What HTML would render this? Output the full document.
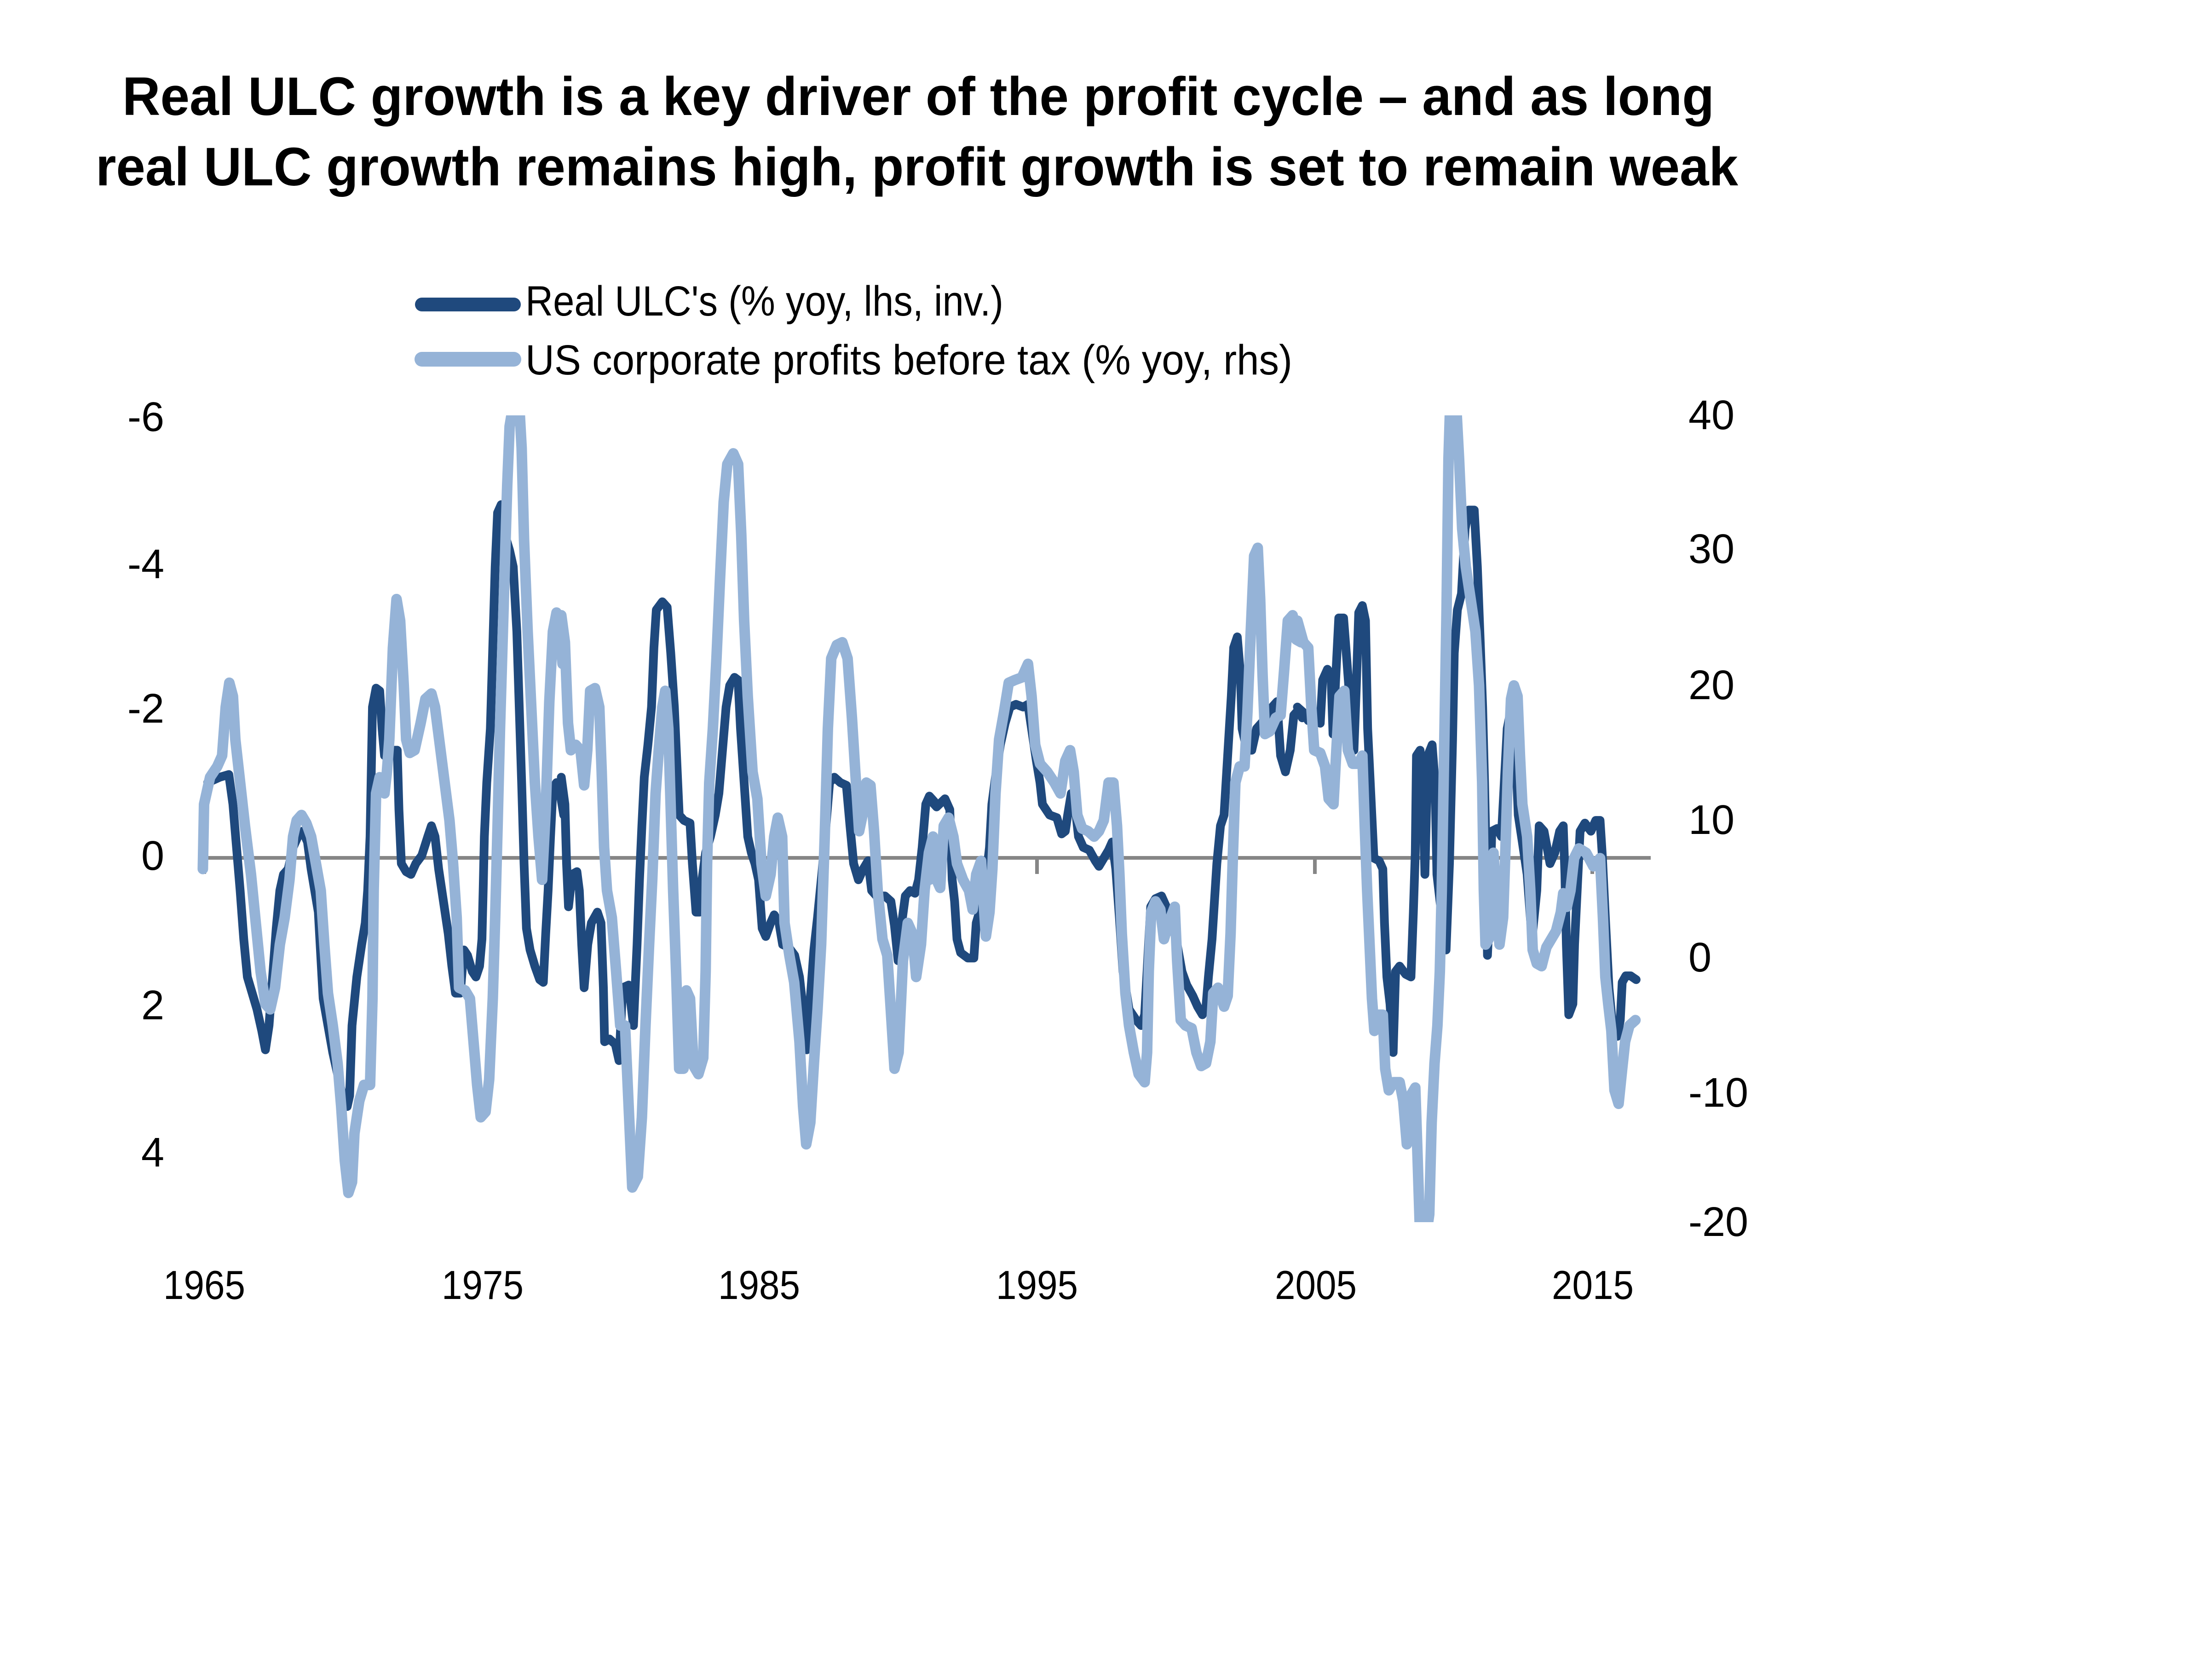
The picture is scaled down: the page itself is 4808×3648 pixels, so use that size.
<!DOCTYPE html>
<html>
<head>
<meta charset="utf-8">
<style>
  html, body { margin: 0; padding: 0; background: #ffffff; }
  svg { display: block; }
</style>
</head>
<body>
<svg width="4808" height="3648" viewBox="0 0 4808 3648" xmlns="http://www.w3.org/2000/svg">
  <rect x="0" y="0" width="4808" height="3648" fill="#ffffff"/>

  <!-- Title -->
  <g font-family="'Liberation Sans', Arial, sans-serif" font-weight="bold" font-size="118" fill="#000000">
    <text x="266" y="250" textLength="3460" lengthAdjust="spacingAndGlyphs">Real ULC growth is a key driver of the profit cycle – and as long</text>
    <text x="208" y="403" textLength="3570" lengthAdjust="spacingAndGlyphs">real ULC growth remains high, profit growth is set to remain weak</text>
  </g>

  <!-- Legend -->
  <line x1="917" y1="662" x2="1117" y2="662" stroke="#1F497D" stroke-width="30" stroke-linecap="round"/>
  <line x1="917" y1="781" x2="1117" y2="781" stroke="#95B3D7" stroke-width="32" stroke-linecap="round"/>
  <g font-family="'Liberation Sans', Arial, sans-serif" font-size="92" fill="#000000">
    <text x="1142" y="686" textLength="1039" lengthAdjust="spacingAndGlyphs">Real ULC's (% yoy, lhs, inv.)</text>
    <text x="1142" y="814" textLength="1667" lengthAdjust="spacingAndGlyphs">US corporate profits before tax (% yoy, rhs)</text>
  </g>

  <!-- Left axis labels -->
  <g font-family="'Liberation Sans', Arial, sans-serif" font-size="90" fill="#000000" text-anchor="end">
    <text x="357" y="937">-6</text>
    <text x="357" y="1257">-4</text>
    <text x="357" y="1571">-2</text>
    <text x="357" y="1891">0</text>
    <text x="357" y="2216">2</text>
    <text x="357" y="2536">4</text>
  </g>

  <!-- Right axis labels -->
  <g font-family="'Liberation Sans', Arial, sans-serif" font-size="90" fill="#000000">
    <text x="3670" y="933">40</text>
    <text x="3670" y="1224">30</text>
    <text x="3670" y="1520">20</text>
    <text x="3670" y="1813">10</text>
    <text x="3670" y="2112">0</text>
    <text x="3670" y="2406">-10</text>
    <text x="3670" y="2687">-20</text>
  </g>

  <!-- Bottom axis labels -->
  <g font-family="'Liberation Sans', Arial, sans-serif" font-size="88" fill="#000000" text-anchor="middle">
    <text x="444" y="2824" textLength="178" lengthAdjust="spacingAndGlyphs">1965</text>
    <text x="1049" y="2824" textLength="178" lengthAdjust="spacingAndGlyphs">1975</text>
    <text x="1650" y="2824" textLength="178" lengthAdjust="spacingAndGlyphs">1985</text>
    <text x="2254" y="2824" textLength="178" lengthAdjust="spacingAndGlyphs">1995</text>
    <text x="2860" y="2824" textLength="178" lengthAdjust="spacingAndGlyphs">2005</text>
    <text x="3462" y="2824" textLength="178" lengthAdjust="spacingAndGlyphs">2015</text>
  </g>

  <!-- Horizontal axis line and ticks -->
  <g stroke="#868686" stroke-width="8" fill="none">
    <line x1="440" y1="1865" x2="3588" y2="1865"/>
    <line x1="444" y1="1865" x2="444" y2="1900"/>
    <line x1="1048" y1="1865" x2="1048" y2="1900"/>
    <line x1="1651" y1="1865" x2="1651" y2="1900"/>
    <line x1="2254" y1="1865" x2="2254" y2="1900"/>
    <line x1="2858" y1="1865" x2="2858" y2="1900"/>
    <line x1="3461" y1="1865" x2="3461" y2="1900"/>
  </g>

  <defs>
    <clipPath id="pa">
      <rect x="0" y="903" width="4808" height="1754"/>
    </clipPath>
  </defs>

  <g clip-path="url(#pa)">
    <!-- Dark series: Real ULC's -->
    <g fill="none" stroke="#1F497D" stroke-width="19" stroke-linejoin="round" stroke-linecap="round">
      <g transform="translate(420 880) scale(0.52296 1.17347)">
        <polyline vector-effect="non-scaling-stroke" points="60,700 110,690 148,685 165,740 180,820 195,900 210,990 225,1060 245,1090 265,1120 285,1160 300,1195 315,1150 330,1060 345,970 360,900 375,870 395,860 415,820 435,800 455,790 475,810 490,860 505,900 520,940 540,1100 560,1150 580,1200 600,1240 620,1280 640,1300 650,1280 660,1150 680,1060 700,1000 715,960 725,900 735,800 740,680 745,560 760,525 775,530 785,600 795,650 805,650 830,640 848,640 855,750 865,850 885,865 905,870 925,850 950,835 975,800 990,780 1005,800 1020,860 1040,920 1060,980 1075,1040 1090,1090 1110,1090 1125,1010 1140,1020 1160,1050 1175,1060 1190,1040 1200,990 1205,900 1210,800 1220,700 1235,600 1245,450 1255,300 1265,200 1280,185 1295,240 1315,270 1330,300 1345,420 1355,560 1365,700 1375,850 1385,970 1400,1010 1420,1040 1440,1065 1455,1070 1465,980 1475,900 1485,800 1495,710 1510,700 1525,720 1540,760"/>
      </g>
      <g transform="translate(1220 880) scale(0.52296 1.17347)">
        <polyline vector-effect="non-scaling-stroke" points="0,690 15,740 22,850 30,930 45,870 65,865 75,900 85,1000 95,1080 110,1000 125,960 150,940 165,960 175,1080 180,1180 200,1175 225,1185 240,1215 255,1080 280,1075 300,1150 315,1000 325,880 335,780 345,690 360,630 375,560 385,450 395,380 420,365 440,375 455,460 470,560 480,660 490,760 510,770 535,775 545,850 560,940 575,940 585,880 600,830 620,800 640,760 655,720 670,640 685,560 700,520 720,505 735,510 745,600 760,700 775,800 790,830 805,850 820,880 835,970 850,985 870,960 885,945 905,960 920,1000 945,1005 970,1020 990,1060 1005,1120 1020,1195 1035,1100 1050,1010 1065,950 1085,860 1100,780 1115,700 1135,690 1160,700 1185,705 1200,780 1215,850 1235,880 1255,860 1275,845 1290,900 1310,910 1345,910 1370,920 1385,965 1400,1030 1415,960 1430,910 1450,900 1470,905 1485,880 1500,820 1515,740 1530,725 1550,735"/>
      </g>
      <g transform="translate(2020 880) scale(0.52296 1.17347)">
        <polyline vector-effect="non-scaling-stroke" points="0,730 30,745 65,730 85,750 95,880 105,920 115,990 130,1015 160,1025 185,1025 195,960 215,930 235,880 250,820 260,740 275,690 295,630 315,590 335,560 360,555 390,560 410,555 425,600 445,660 460,700 470,740 500,760 530,765 550,795 565,790 575,760 590,720 605,740 620,800 640,820 665,825 690,845 705,855 725,840 745,825 760,810 775,860 790,950 805,1050 830,1120 860,1140 880,1150 895,1130 905,1050 920,930 940,915 965,910 985,930 1010,960 1030,1000 1050,1050 1070,1075 1095,1095 1115,1115 1135,1130 1150,1115 1160,1060 1175,990 1185,920 1195,850 1210,780 1225,760 1240,650 1255,540 1265,450 1280,430 1293,500 1300,600 1320,640 1340,640 1360,600 1380,590 1400,580 1425,560 1445,550 1460,650 1480,680 1500,640 1515,575 1535,565 1550,580"/>
      </g>
      <g transform="translate(2820 880) scale(0.52296 1.17347)">
        <polyline vector-effect="non-scaling-stroke" points="0,560 25,570 45,585 75,585 95,590 105,510 125,490 140,500 148,610 160,500 172,395 192,395 205,470 220,560 235,640 245,520 255,385 270,372 283,400 292,600 305,720 318,840 340,845 355,860 362,960 372,1060 385,1110 398,1200 408,1050 425,1040 450,1055 472,1060 482,940 490,830 495,650 510,640 522,720 530,870 542,650 560,630 572,700 580,870 598,940 618,1010 632,850 645,620 652,460 665,380 682,350 697,230 712,195 735,195 748,300 760,440 770,560 778,700 785,850 790,1020 800,920 808,790 830,785 848,800 860,700 872,600 890,560 905,620 918,760 935,810 955,870 975,990 995,900 1005,780 1025,790 1050,850 1070,830 1090,790 1105,780 1112,870 1118,1000 1128,1130 1145,1110 1152,1000 1165,880 1175,790 1195,775 1220,790 1240,770 1258,770 1268,840 1280,950 1295,1080 1312,1160 1330,1170 1342,1140 1350,1070 1365,1058 1385,1058 1408,1065"/>
      </g>
    </g>

    <!-- Light series: US corporate profits -->
    <g fill="none" stroke="#95B3D7" stroke-width="23" stroke-linejoin="round" stroke-linecap="round">
      <g transform="translate(420 880) scale(0.52296 1.17347)">
        <polyline vector-effect="non-scaling-stroke" points="40,860 45,740 70,690 100,670 120,650 135,560 150,515 165,540 175,620 195,700 215,780 240,870 260,960 280,1050 300,1110 320,1120 340,1080 360,1000 380,950 400,880 415,800 430,770 450,760 470,775 490,800 510,850 530,900 545,1000 560,1090 580,1150 600,1220 615,1300 630,1400 645,1460 660,1440 670,1350 690,1290 710,1260 735,1260 745,1100 750,900 760,720 775,690 795,720 805,680 815,620 830,450 845,360 860,400 875,520 885,620 900,645 920,640 945,590 965,545 990,535 1005,560 1025,630 1045,700 1065,770 1080,850 1095,950 1105,1080 1130,1085 1150,1100 1165,1180 1180,1260 1195,1320 1215,1310 1230,1250 1245,1100 1255,950 1265,780 1275,600 1285,450 1295,300 1305,150 1315,40 1330,0 1355,0 1365,80 1375,250 1390,420 1405,560 1420,700 1435,800 1450,880 1465,750 1480,550 1495,420 1510,385 1525,430 1535,480"/>
      </g>
      <g transform="translate(1220 880) scale(0.52296 1.17347)">
        <polyline vector-effect="non-scaling-stroke" points="0,390 15,440 28,590 40,640 60,630 80,640 95,705 108,640 120,530 140,525 158,560 168,680 178,820 190,900 210,950 228,1050 245,1150 265,1150 280,1300 295,1450 318,1430 335,1320 350,1150 365,1000 378,880 392,720 405,640 420,560 432,530 445,600 455,750 465,900 478,1060 490,1230 508,1230 520,1085 535,1100 550,1225 570,1240 590,1210 600,1050 606,850 615,700 630,600 645,470 660,320 675,180 690,110 715,90 735,110 748,240 760,400 775,540 795,680 815,730 832,850 850,910 870,870 885,800 900,765 918,800 928,960 948,1020 968,1070 990,1180 1005,1300 1018,1370 1035,1330 1050,1220 1065,1120 1080,1000 1095,800 1108,600 1122,470 1145,445 1168,440 1190,470 1208,580 1222,680 1238,790 1252,760 1268,700 1285,705 1300,790 1315,900 1335,990 1355,1020 1368,1110 1385,1230 1402,1200 1420,1030 1440,960 1460,980 1475,1060 1495,1000 1510,900 1528,830 1545,800 1560,880"/>
      </g>
      <g transform="translate(2020 880) scale(0.52296 1.17347)">
        <polyline vector-effect="non-scaling-stroke" points="0,880 20,870 45,895 60,780 80,765 100,800 115,850 140,880 165,900 180,935 195,870 215,845 235,985 250,940 262,860 275,720 290,620 310,570 330,515 355,510 385,505 410,480 425,540 440,630 460,665 490,680 520,700 545,720 565,660 585,640 600,680 615,760 635,785 660,790 685,800 705,790 725,770 745,700 765,700 780,780 790,870 800,980 815,1090 830,1150 850,1200 870,1240 895,1255 905,1200 912,1050 922,940 940,920 960,935 975,990 995,960 1020,930 1030,1030 1045,1140 1065,1150 1090,1155 1110,1200 1130,1225 1150,1220 1168,1180 1180,1090 1200,1080 1225,1115 1240,1095 1252,980 1262,830 1272,700 1290,670 1310,670 1322,570 1335,430 1350,280 1365,265 1375,360 1385,500 1395,610 1415,605 1440,580 1460,575 1475,490 1490,400 1510,390 1525,435 1545,440"/>
      </g>
      <g transform="translate(2820 880) scale(0.52296 1.17347)">
        <polyline vector-effect="non-scaling-stroke" points="0,400 25,440 45,450 58,560 70,640 95,645 115,670 130,730 150,740 162,640 175,540 195,530 210,640 230,665 255,665 270,650 280,780 290,900 300,1000 310,1100 320,1160 340,1130 355,1130 365,1230 380,1270 400,1255 425,1255 440,1290 455,1370 470,1280 490,1265 500,1400 510,1540 535,1540 548,1500 558,1330 570,1220 582,1150 592,1050 600,900 610,640 620,380 628,100 635,0 660,0 672,100 685,230 700,300 720,360 740,420 755,520 768,700 775,900 782,1000 795,990 805,880 815,830 828,930 840,1000 855,950 865,820 875,680 888,545 900,520 915,540 925,650 935,740 955,800 968,900 978,1010 995,1035 1015,1040 1035,1005 1055,990 1075,975 1095,940 1105,905 1120,930 1135,900 1150,840 1170,822 1200,830 1230,855 1258,840 1270,950 1280,1060 1292,1110 1305,1160 1318,1270 1335,1295 1350,1230 1362,1180 1380,1150 1405,1140"/>
      </g>
    </g>
  </g>
</svg>
</body>
</html>
